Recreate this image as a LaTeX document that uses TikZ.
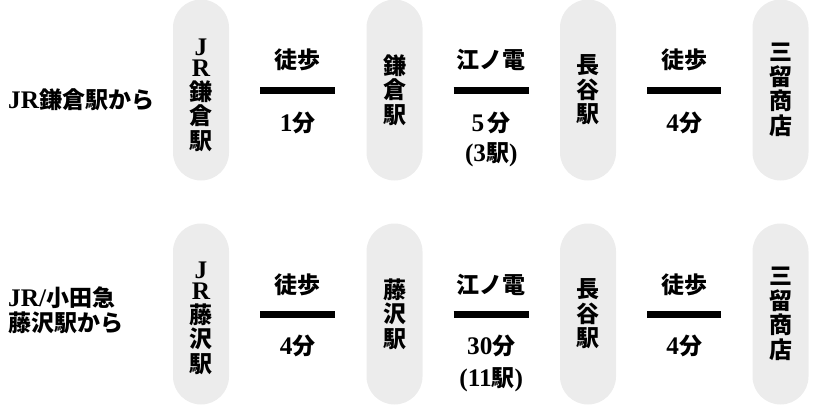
\documentclass[tikz,border=0pt]{standalone}
\usepackage{fontspec}
\setmainfont{Noto Sans CJK JP}
\newfontfamily\lat[Scale=1.1]{Liberation Serif}
\begin{document}
\begin{tikzpicture}[x=1pt, y=-1pt, line join=round,
	pill/.style={fill=gray!15, rounded corners=28pt, minimum width=56pt, minimum height=181pt, inner sep=0pt},
	vtxt/.style={align=center, inner sep=0pt, font=\bfseries\fontsize{23}{24.5}\selectfont},
	txt/.style={align=center, inner sep=0pt, font=\bfseries\fontsize{23}{28}\selectfont},
	lbl/.style={align=left, anchor=west, inner sep=0pt, font=\bfseries\fontsize{23}{25}\selectfont},
	link/.style={line width=7pt}]
		\def\ya{90} \def\yb{314} \def\gap{31pt}
		\useasboundingbox (0,0) rectangle (815,405);
		% row 1: Kamakura
		\node[lbl] (fromA) at (8,100) {{\lat JR}鎌倉駅から};
		\node[pill] (a1) at (201,\ya) {};
		\node[pill] (a2) at (394.5,\ya) {};
		\node[pill] (a3) at (588,\ya) {};
		\node[pill] (a4) at (780.5,\ya) {};
		\node[vtxt] (a1t) at ([yshift=-5pt]a1) {{\lat J}\\[-3pt]{\lat R}\\[-1pt]鎌\\倉\\駅};
		\node[vtxt] (a2t) at (a2) {鎌\\倉\\駅};
		\node[vtxt] (a3t) at (a3) {長\\谷\\駅};
		\node[vtxt] (a4t) at (a4) {三\\留\\商\\店};
		\draw[link] ([xshift=\gap]a1.east) -- ([xshift=-\gap]a2.west) coordinate[midway] (ma1);
		\draw[link] ([xshift=\gap]a2.east) -- ([xshift=-\gap]a3.west) coordinate[midway] (ma2);
		\draw[link] ([xshift=\gap]a3.east) -- ([xshift=-\gap]a4.west) coordinate[midway] (ma3);
		\node[txt] (wa1) at ([yshift=30pt]ma1) {徒歩};
		\node[txt] (ta1) at ([yshift=-33pt]ma1) {{\lat 1}分};
		\node[txt] (wa2) at ([yshift=30pt]ma2) {江ノ電};
		\node[txt] (ta2) at ([yshift=-33pt]ma2) {{\lat 5}\,分};
		\node[txt] (sa2) at ([yshift=-65pt]ma2) {{\lat (3}駅{\lat )}};
		\node[txt] (wa3) at ([yshift=30pt]ma3) {徒歩};
		\node[txt] (ta3) at ([yshift=-33pt]ma3) {{\lat 4}分};
		% row 2: Fujisawa
		\node[lbl] (fromB) at (8,310) {{\lat JR/}小田急\\藤沢駅から};
		\node[pill] (b1) at (201,\yb) {};
		\node[pill] (b2) at (394.5,\yb) {};
		\node[pill] (b3) at (588,\yb) {};
		\node[pill] (b4) at (780.5,\yb) {};
		\node[vtxt] (b1t) at ([yshift=-4pt]b1) {{\lat J}\\[-3pt]{\lat R}\\[-1pt]藤\\沢\\駅};
		\node[vtxt] (b2t) at (b2) {藤\\沢\\駅};
		\node[vtxt] (b3t) at (b3) {長\\谷\\駅};
		\node[vtxt] (b4t) at (b4) {三\\留\\商\\店};
		\draw[link] ([xshift=\gap]b1.east) -- ([xshift=-\gap]b2.west) coordinate[midway] (mb1);
		\draw[link] ([xshift=\gap]b2.east) -- ([xshift=-\gap]b3.west) coordinate[midway] (mb2);
		\draw[link] ([xshift=\gap]b3.east) -- ([xshift=-\gap]b4.west) coordinate[midway] (mb3);
		\node[txt] (wb1) at ([yshift=29pt]mb1) {徒歩};
		\node[txt] (tb1) at ([yshift=-32pt]mb1) {{\lat 4}分};
		\node[txt] (wb2) at ([yshift=29pt]mb2) {江ノ電};
		\node[txt] (tb2) at ([yshift=-32pt]mb2) {{\lat 30}分};
		\node[txt] (sb2) at ([yshift=-66pt]mb2) {{\lat (11}駅{\lat )}};
		\node[txt] (wb3) at ([yshift=29pt]mb3) {徒歩};
		\node[txt] (tb3) at ([yshift=-32pt]mb3) {{\lat 4}分};
	\end{tikzpicture}
\end{document}
